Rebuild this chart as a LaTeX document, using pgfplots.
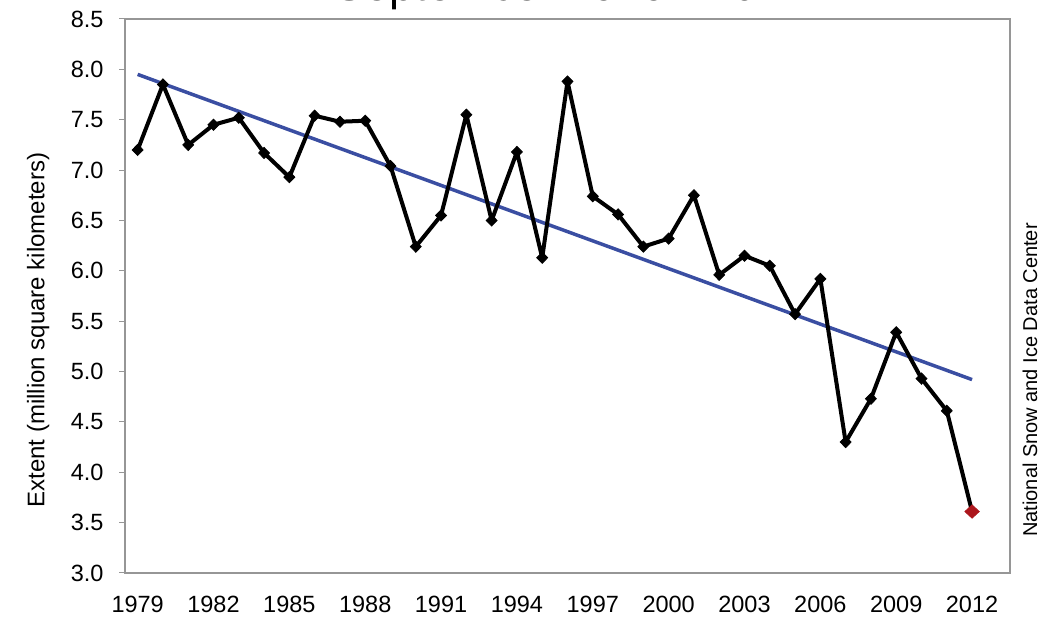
\documentclass[border=0pt]{standalone}
\usepackage{fontspec}
\setmainfont{Liberation Sans}
\usepackage{pgfplots}
\pgfplotsset{compat=1.18}
\definecolor{axisgray}{RGB}{150,150,150}
\definecolor{trendblue}{RGB}{58,78,162}
\definecolor{lastred}{RGB}{172,22,28}

\begin{document}
\begin{tikzpicture}[x=1pt,y=1pt]
\useasboundingbox (0,0) rectangle (1061,618);
% title sits almost entirely above the page, as in the source image
\node[anchor=base, font=\fontsize{45}{45}\selectfont] at (571,617) {September 1979 - 2012};
\node[rotate=90, font=\fontsize{20}{20}\selectfont] at (1030,238) {National Snow and Ice Data Center};
\begin{axis}[
    at={(125pt,45pt)}, anchor=south west,
    width=885pt, height=554pt, scale only axis,
    xmin=1978.5, xmax=2013.5,
    ymin=3, ymax=8.5,
    axis line style={axisgray, line width=1.2pt},
    tick align=outside,
    xtick pos=left, ytick pos=left,
    xtick={1979,1982,...,2012},
    x tick style={draw=none},
    minor xtick={1978.5,1979.5,...,2013.5},
    minor x tick style={axisgray, line width=1pt},
    minor tick length=6pt,
    ytick={3,3.5,...,8.5},
    y tick style={axisgray, line width=1pt},
    major tick length=6pt,
    x tick label style={/pgf/number format/1000 sep={}, font=\fontsize{23.5}{23.5}\selectfont, yshift=-14pt},
    y tick label style={/pgf/number format/.cd, fixed, fixed zerofill, precision=1, /tikz/.cd, font=\fontsize{23.5}{23.5}\selectfont, xshift=-12pt},
    /pgf/number format/assume math mode=true,
    ylabel={Extent (million square kilometers)},
    ylabel style={at={(axis description cs:-0.098,0.4386)}, anchor=center, rotate=0, font=\fontsize{24}{24}\selectfont},
    clip=false,
]
\addplot[trendblue, line width=3.5pt] coordinates {(1979,7.95) (2012,4.92)};
\addplot[black, line width=4pt, line join=round, mark=diamond*, mark size=5.6pt, mark indices={1,...,33},
    mark options={solid, line width=0.8pt, line join=miter, xscale=1.3}] coordinates {
(1979,7.20) (1980,7.85) (1981,7.25) (1982,7.45) (1983,7.52) (1984,7.17)
(1985,6.93) (1986,7.54) (1987,7.48) (1988,7.49) (1989,7.04) (1990,6.24)
(1991,6.55) (1992,7.55) (1993,6.50) (1994,7.18) (1995,6.13) (1996,7.88)
(1997,6.74) (1998,6.56) (1999,6.24) (2000,6.32) (2001,6.75) (2002,5.96)
(2003,6.15) (2004,6.05) (2005,5.57) (2006,5.92) (2007,4.30) (2008,4.73)
(2009,5.39) (2010,4.93) (2011,4.61) (2012,3.61)};
\addplot[only marks, mark=diamond*, mark size=6.6pt, color=lastred,
    mark options={line width=0.8pt, xscale=1.45}] coordinates {(2012,3.61)};
\end{axis}
\end{tikzpicture}
\end{document}
